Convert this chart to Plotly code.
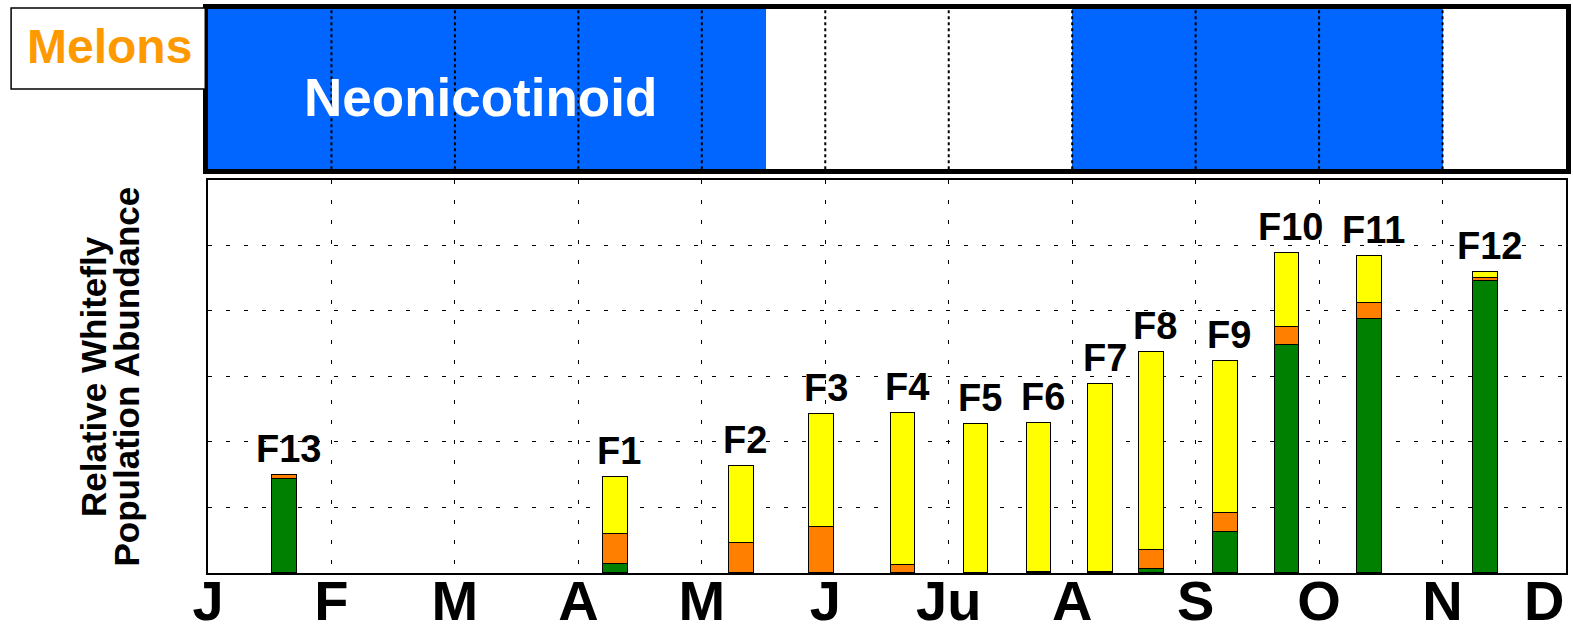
import plotly.graph_objects as go

# month letters, J = 0 ... D = 11
months = ['J', 'F', 'M', 'A', 'M', 'J', 'Ju', 'A', 'S', 'O', 'N']

# field labels and bar positions (in months from Jan 1)
fields = ['F13', 'F1', 'F2', 'F3', 'F4', 'F5', 'F6', 'F7', 'F8', 'F9', 'F10', 'F11', 'F12']
field_pos = [0.62, 3.30, 4.32, 4.97, 5.63, 6.22, 6.73, 7.23, 7.64, 8.24, 8.74, 9.41, 10.35]

# stacked relative abundance components
green = [1.43, 0.14, 0.00, 0.00, 0.00, 0.00, 0.00, 0.00, 0.06, 0.63, 3.48, 3.88, 4.46]
orange = [0.06, 0.45, 0.46, 0.70, 0.13, 0.00, 0.02, 0.02, 0.30, 0.29, 0.28, 0.24, 0.05]
yellow = [0.00, 0.87, 1.18, 1.73, 2.31, 2.28, 2.27, 2.86, 3.02, 2.31, 1.12, 0.72, 0.09]

# neonicotinoid use windows (months)
neonic_start = [0, 7]
neonic_end = [4.52, 10]

BOLD = 'Liberation Sans, Arial, sans-serif'

fig = go.Figure()

# top panel: neonicotinoid windows
fig.add_trace(go.Bar(
    y=[0.5] * len(neonic_start),
    x=[e - s for s, e in zip(neonic_start, neonic_end)],
    base=neonic_start,
    orientation='h',
    width=1,
    marker=dict(color='#0066FF', line=dict(width=0)),
    xaxis='x', yaxis='y',
    showlegend=False, hoverinfo='skip'))

# bottom panel: stacked whitefly bars
for vals, col in [(green, '#008000'), (orange, '#FF8000'), (yellow, '#FFFF00')]:
    fig.add_trace(go.Bar(
        x=field_pos, y=vals, width=0.2,
        marker=dict(color=col, line=dict(color='black', width=1)),
        xaxis='x2', yaxis='y2', showlegend=False))

totals = [g + o + y for g, o, y in zip(green, orange, yellow)]
for name, xp, tot in zip(fields, field_pos, totals):
    fig.add_annotation(
        x=xp, y=tot, xref='x2', yref='y2', text=name, showarrow=False,
        xanchor='center', yanchor='bottom', xshift=4, yshift=3,
        font=dict(family=BOLD, size=38, color='black', weight='bold'))

# dense dotted month lines over the blue panel
for m in range(1, 11):
    fig.add_shape(type='line', x0=m, x1=m, y0=0, y1=1, xref='x', yref='y',
                  line=dict(color='black', width=2, dash='3px,3px'), layer='above')

fig.add_annotation(x=2.21, y=0.45, xref='x', yref='y', text='Neonicotinoid',
                   showarrow=False, xanchor='center', yanchor='middle',
                   font=dict(family=BOLD, size=53, color='white', weight='bold'))

# Melons box
fig.add_shape(type='rect', xref='paper', yref='paper',
              x0=-0.145, x1=-0.002, y0=0.858, y1=1.0018,
              line=dict(color='black', width=1.5), fillcolor='white')
fig.add_annotation(x=-0.0725, y=0.933, xref='paper', yref='paper', text='Melons',
                   showarrow=False, xanchor='center', yanchor='middle',
                   font=dict(family=BOLD, size=48, color='#FF9900', weight='bold'))

# y title, two rotated lines
for txt, xp in [('Relative Whitefly', -0.0845), ('Population Abundance', -0.0598)]:
    fig.add_annotation(x=xp, y=0.348, xref='paper', yref='paper', text=txt,
                       textangle=-90, showarrow=False, xanchor='center', yanchor='middle',
                       font=dict(family=BOLD, size=35, color='black', weight='bold'))

fig.add_annotation(x=11, y=0, xref='x2', yref='paper', text='D', showarrow=False,
                   xanchor='right', yanchor='top', yshift=6,
                   font=dict(family=BOLD, size=56, color='black', weight='bold'))

fig.update_layout(
    width=1573, height=634,
    margin=dict(l=208, r=7, t=9, b=61, autoexpand=False),
    plot_bgcolor='white', paper_bgcolor='white',
    barmode='stack', bargap=0,
    xaxis=dict(domain=[0, 1], range=[0, 11], anchor='y', automargin=False,
               showgrid=False, showticklabels=False, zeroline=False,
               showline=True, linecolor='black', linewidth=5, mirror=True),
    yaxis=dict(domain=[0.716, 1], range=[0, 1], anchor='x', automargin=False,
               showgrid=False, showticklabels=False, zeroline=False,
               showline=True, linecolor='black', linewidth=5, mirror=True),
    xaxis2=dict(domain=[0, 1], range=[0, 11], anchor='y2', automargin=False,
                tickvals=list(range(len(months))), ticktext=months,
                ticks='outside', ticklen=0, tickcolor='rgba(0,0,0,0)',
                ticklabelstandoff=-22,
                tickfont=dict(family=BOLD, size=56, color='black', weight='bold'),
                showgrid=True, gridcolor='black', gridwidth=1, griddash='4px,16px',
                zeroline=False,
                showline=True, linecolor='black', linewidth=2, mirror=True),
    yaxis2=dict(domain=[0, 0.697], range=[0, 6], anchor='x2', automargin=False,
                tickvals=[1, 2, 3, 4, 5], showticklabels=False,
                showgrid=True, gridcolor='black', gridwidth=1, griddash='4px,14px',
                zeroline=False,
                showline=True, linecolor='black', linewidth=2, mirror=True),
)

# drop the default page margin so the figure sits at the window's corner
fig.write_html("out.html", config={'displayModeBar': False},
               post_script="document.body.style.margin='0px';")
